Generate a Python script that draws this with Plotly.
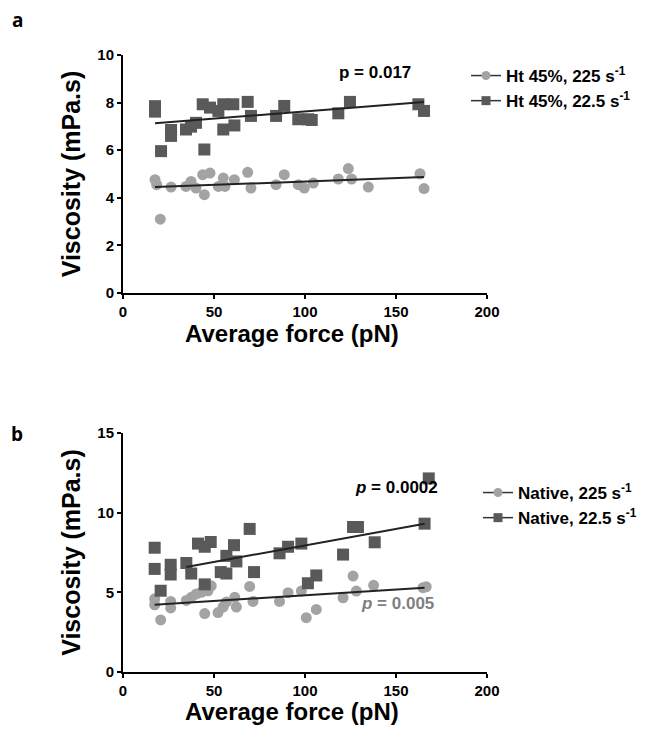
import plotly.graph_objects as go

# ---------------- Panel a data (Ht 45%) ----------------
a_circ_x = [17.6, 18.5, 20.5, 26.4, 34.6, 37.4, 40.1, 43.8, 44.7, 47.8, 52.4, 55.1, 56.0, 61.2,
            68.5, 70.3, 84.1, 88.6, 96.3, 99.6, 104.6, 118.3, 123.8, 125.6, 134.8, 163.2, 165.4]
a_circ_y = [4.76, 4.55, 3.10, 4.45, 4.48, 4.69, 4.41, 4.97, 4.13, 5.04, 4.48, 4.83, 4.48, 4.76,
            5.07, 4.41, 4.55, 4.97, 4.55, 4.41, 4.62, 4.79, 5.23, 4.79, 4.45, 5.01, 4.39]
a_sq_x = [17.6, 17.6, 20.9, 26.4, 26.4, 34.6, 37.4, 40.1, 43.8, 44.7, 47.8, 52.4, 55.1, 55.1,
          60.6, 61.2, 68.5, 70.3, 84.1, 88.6, 96.3, 101.8, 103.7, 118.3, 124.7, 162.3, 165.4]
a_sq_y = [7.85, 7.62, 5.96, 6.85, 6.60, 6.87, 6.99, 7.15, 7.93, 6.03, 7.79, 7.65, 7.93, 6.87,
          7.93, 7.04, 8.03, 7.44, 7.44, 7.86, 7.30, 7.30, 7.27, 7.55, 8.03, 7.93, 7.65]
a_fit_sq_x = [17.6, 165.4]
a_fit_sq_y = [7.13, 8.03]
a_fit_circ_x = [17.6, 165.4]
a_fit_circ_y = [4.45, 4.87]

# ---------------- Panel b data (Native) ----------------
b_circ_x = [17.4, 17.4, 20.7, 26.2, 26.2, 34.8, 37.5, 40.3, 43.0, 44.9, 46.7, 48.5, 52.2, 55.0,
            56.8, 61.4, 62.3, 69.6, 71.4, 86.0, 90.7, 98.0, 100.7, 106.2, 120.9, 126.4, 128.2,
            137.7, 164.8, 166.6]
b_circ_y = [4.59, 4.22, 3.27, 4.43, 4.02, 4.49, 4.69, 4.90, 5.00, 3.67, 5.10, 5.41, 3.73, 4.08,
            4.39, 4.69, 4.08, 5.37, 4.43, 4.43, 4.98, 5.08, 3.41, 3.93, 4.66, 6.02, 5.08,
            5.44, 5.29, 5.35]
b_sq_x = [17.4, 17.4, 20.7, 26.2, 26.2, 34.8, 37.5, 41.2, 44.9, 44.9, 48.2, 53.7, 56.8, 56.8,
          61.0, 62.3, 69.6, 72.0, 86.0, 90.7, 98.0, 101.6, 106.2, 120.9, 126.4, 129.1, 138.3,
          165.7, 168.0]
b_sq_y = [7.80, 6.47, 5.10, 6.73, 6.12, 6.84, 6.18, 8.06, 7.86, 5.50, 8.16, 6.27, 6.18, 7.29,
          7.96, 6.94, 8.98, 6.27, 7.45, 7.86, 8.06, 5.57, 6.06, 7.37, 9.10, 9.10, 8.14,
          9.31, 12.15]
b_fit_sq_x = [34.8, 165.7]
b_fit_sq_y = [6.59, 9.31]
b_fit_circ_x = [17.4, 165.7]
b_fit_circ_y = [4.22, 5.29]

x_ticks = [0, 50, 100, 150, 200]
a_y_ticks = [0, 2, 4, 6, 8, 10]
b_y_ticks = [0, 5, 10, 15]

LIGHT = "#a3a3a3"
DARK = "#595959"
FONT = "Liberation Sans, Arial, sans-serif"

fig = go.Figure()

def add_panel(xa, ya, cx, cy, sx, sy, fsx, fsy, fcx, fcy, legend, names):
    fig.add_trace(go.Scatter(x=cx, y=cy, mode="markers", xaxis=xa, yaxis=ya,
                             marker=dict(symbol="circle", size=11, color=LIGHT),
                             showlegend=False, hoverinfo="x+y"))
    fig.add_trace(go.Scatter(x=sx, y=sy, mode="markers", xaxis=xa, yaxis=ya,
                             marker=dict(symbol="square", size=12, color=DARK),
                             showlegend=False, hoverinfo="x+y"))
    fig.add_trace(go.Scatter(x=fcx, y=fcy, mode="lines", xaxis=xa, yaxis=ya,
                             line=dict(color="#222222", width=2), showlegend=False))
    fig.add_trace(go.Scatter(x=fsx, y=fsy, mode="lines", xaxis=xa, yaxis=ya,
                             line=dict(color="#222222", width=2), showlegend=False))
    # legend entries
    fig.add_trace(go.Scatter(x=[None], y=[None], mode="lines+markers", xaxis=xa, yaxis=ya,
                             name=names[0], legend=legend,
                             line=dict(color="#333333", width=1.5),
                             marker=dict(symbol="circle", size=9, color=LIGHT)))
    fig.add_trace(go.Scatter(x=[None], y=[None], mode="lines+markers", xaxis=xa, yaxis=ya,
                             name=names[1], legend=legend,
                             line=dict(color="#333333", width=1.5),
                             marker=dict(symbol="square", size=9, color=DARK)))

add_panel("x", "y", a_circ_x, a_circ_y, a_sq_x, a_sq_y, a_fit_sq_x, a_fit_sq_y,
          a_fit_circ_x, a_fit_circ_y, "legend",
          ["Ht 45%, 225 s<sup>-1</sup>", "Ht 45%, 22.5 s<sup>-1</sup>"])
add_panel("x2", "y2", b_circ_x, b_circ_y, b_sq_x, b_sq_y, b_fit_sq_x, b_fit_sq_y,
          b_fit_circ_x, b_fit_circ_y, "legend2",
          ["Native, 225 s<sup>-1</sup>", "Native, 22.5 s<sup>-1</sup>"])

# the page body adds an 8px margin; map reference pixel positions accordingly
OFF = 8
W, H = 646 - 2 * OFF, 735 - 2 * OFF
def px(x): return (x - OFF) / W
def py(y): return 1 - (y - OFF) / H

axis_common = dict(showline=True, linecolor="black", linewidth=2, ticks="outside",
                   ticklen=4, tickwidth=2, tickcolor="black", showgrid=False, zeroline=False,
                   automargin=False,
                   tickfont=dict(family=FONT, size=15, color="black", weight="bold"))
title_font = dict(family=FONT, size=25, color="black", weight="bold")

fig.update_layout(
    width=W, height=H, margin=dict(l=0, r=0, t=0, b=0, autoexpand=False),
    paper_bgcolor="white", plot_bgcolor="white",
    font=dict(family=FONT, color="black"),
    xaxis=dict(domain=[px(123), px(487)], range=[0, 200], tickvals=x_ticks, anchor="y",
               **axis_common),
    yaxis=dict(domain=[py(293), py(55)], range=[0, 10], tickvals=a_y_ticks, anchor="x",
               title=dict(text="Viscosity (mPa.s)", standoff=10, font=title_font), **axis_common),
    xaxis2=dict(domain=[px(123), px(487)], range=[0, 200], tickvals=x_ticks, anchor="y2",
                **axis_common),
    yaxis2=dict(domain=[py(672), py(433)], range=[0, 15], tickvals=b_y_ticks, anchor="x2",
                title=dict(text="Viscosity (mPa.s)", standoff=10, font=title_font), **axis_common),
    legend=dict(x=px(466), y=py(58), xanchor="left", yanchor="top",
                font=dict(family=FONT, size=17, color="black", weight="bold"),
                bgcolor="rgba(0,0,0,0)", itemwidth=30, tracegroupgap=0),
    legend2=dict(x=px(478), y=py(475), xanchor="left", yanchor="top",
                 font=dict(family=FONT, size=17, color="black", weight="bold"),
                 bgcolor="rgba(0,0,0,0)", itemwidth=30, tracegroupgap=0),
)

def note(xp, yp, text, font):
    fig.add_annotation(x=px(xp), y=py(yp), xref="paper", yref="paper", showarrow=False,
                       xanchor="center", yanchor="middle", borderpad=0, text=text, font=font)

xtitle_font = dict(family=FONT, size=24, color="black", weight="bold")
note(292, 333, "Average force (pN)", xtitle_font)
note(292, 711, "Average force (pN)", xtitle_font)

ann_font = dict(family=FONT, size=17, color="black", weight="bold")
note(375, 73, "p = 0.017", ann_font)
note(396, 487, "<i>p</i> = 0.0002", ann_font)
note(397, 603, "<i>p</i> = 0.005", dict(family=FONT, size=17, color="#7f7f7f", weight="bold"))
label_font = dict(family="Open Sans, sans-serif", size=19, color="black", weight="bold")
note(17, 20, "a", label_font)
note(17, 434, "b", label_font)

fig.write_html("out.html")
